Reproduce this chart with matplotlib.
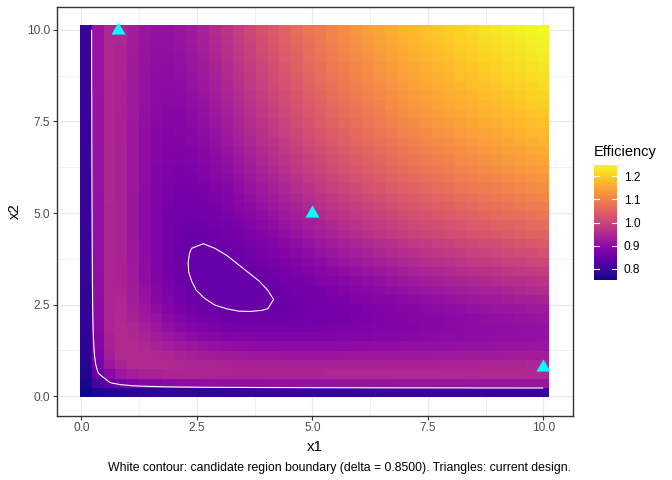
import numpy as np
import matplotlib
matplotlib.use("Agg")
import matplotlib.pyplot as plt
from matplotlib.path import Path

# Tile centres (same grid for x1 and x2)
x1_values = np.linspace(0.1, 10, 40)
x2_values = np.linspace(0.1, 10, 40)

# Current design points (triangles)
design_x1 = [0.8, 5.0, 10.0]
design_x2 = [10.0, 5.0, 0.8]

contour_level = 0.85
colorbar_ticks = [0.8, 0.9, 1.0, 1.1, 1.2]
colorbar_labels = ['0.8', '0.9', '1.0', '1.1', '1.2']
axis_ticks = [0, 2.5, 5, 7.5, 10]
axis_labels = ['0.0', '2.5', '5.0', '7.5', '10.0']

# Efficiency x 1000; row j = x2_values[j], column i = x1_values[i]
efficiency_milli = [
[752,761,768,773,777,779,781,783,784,785,786,786,787,787,788,788,788,789,789,789,790,790,790,790,790,791,791,791,791,791,791,791,791,792,792,792,792,792,792,792],
[761,810,845,866,878,886,891,895,897,899,901,902,903,904,904,905,906,906,907,907,908,908,909,909,910,910,910,911,911,911,912,912,912,913,913,913,913,914,914,914],
[768,845,892,917,929,935,938,940,941,941,941,941,941,941,941,941,941,941,941,941,941,942,942,942,943,943,943,944,944,944,945,945,945,945,946,946,946,947,947,947],
[773,866,917,939,948,951,950,948,946,944,942,940,939,938,937,936,936,935,935,935,935,935,935,936,936,936,937,937,937,938,938,939,939,939,940,940,941,941,942,942],
[777,878,929,948,953,951,947,942,937,932,928,925,923,921,919,918,917,916,916,916,916,916,917,917,917,918,918,919,920,920,921,922,922,923,924,924,925,926,926,927],
[779,886,935,951,951,945,937,929,922,916,910,906,903,900,898,897,896,896,896,896,896,896,897,898,899,900,901,902,903,904,905,906,907,908,909,910,911,912,913,914],
[781,891,938,950,947,937,926,916,907,899,893,888,884,882,880,879,878,878,878,879,880,881,882,883,885,886,888,889,891,892,894,896,897,899,900,902,903,905,906,908],
[783,895,940,948,942,929,916,904,893,885,878,873,869,867,865,865,865,865,866,867,869,871,873,875,877,879,881,883,885,887,890,892,894,896,898,900,902,904,906,908],
[784,897,941,946,937,922,907,893,882,873,866,861,858,856,855,855,856,857,859,861,863,866,868,871,874,877,880,883,886,888,891,894,896,899,902,904,906,909,911,913],
[785,899,941,944,932,916,899,885,873,864,857,852,850,848,848,849,851,853,856,859,862,866,869,873,876,880,883,887,890,894,897,900,903,907,910,913,915,918,921,923],
[786,901,941,942,928,910,893,878,866,857,851,847,845,845,845,847,850,853,857,861,865,869,873,878,882,886,891,895,899,903,906,910,914,917,921,924,927,931,934,937],
[786,902,941,940,925,906,888,873,861,852,847,844,843,843,845,848,852,856,861,865,870,875,881,886,891,895,900,905,909,914,918,922,926,930,934,938,941,945,948,952],
[787,903,941,939,923,903,884,869,858,850,845,843,843,844,847,851,856,861,867,872,878,884,889,895,901,906,912,917,922,927,931,936,940,945,949,953,957,960,964,968],
[787,904,941,938,921,900,882,867,856,848,845,843,844,847,851,856,862,868,874,880,887,893,900,906,912,918,924,929,935,940,945,950,955,960,964,968,972,976,980,984],
[788,904,941,937,919,898,880,865,855,848,845,845,847,851,856,862,869,875,882,890,897,904,911,917,924,930,937,943,949,954,960,965,970,975,979,984,988,992,997,1000],
[788,905,941,936,918,897,879,865,855,849,847,848,851,856,862,869,876,884,891,899,907,915,922,929,936,943,950,956,962,968,974,979,985,990,995,999,1004,1008,1013,1017],
[788,906,941,936,917,896,878,865,856,851,850,852,856,862,869,876,884,892,901,909,917,926,933,941,949,956,963,969,976,982,988,994,999,1004,1010,1014,1019,1024,1028,1032],
[789,906,941,935,916,896,878,865,857,853,853,856,861,868,875,884,892,901,910,919,928,937,945,953,961,968,975,982,989,995,1002,1008,1013,1019,1024,1029,1034,1039,1043,1047],
[789,907,941,935,916,896,878,866,859,856,857,861,867,874,882,891,901,910,920,929,938,947,956,964,973,980,988,995,1002,1009,1015,1021,1027,1032,1038,1043,1048,1053,1058,1062],
[789,907,941,935,916,896,879,867,861,859,861,865,872,880,890,899,909,919,929,939,949,958,967,976,984,992,1000,1007,1014,1021,1028,1034,1040,1046,1051,1057,1062,1067,1071,1076],
[790,908,941,935,916,896,880,869,863,862,865,870,878,887,897,907,917,928,938,949,959,968,978,986,995,1003,1011,1019,1026,1033,1040,1046,1052,1058,1064,1069,1075,1080,1084,1089],
[790,908,942,935,916,896,881,871,866,866,869,875,884,893,904,915,926,937,947,958,968,978,988,997,1006,1014,1022,1030,1038,1045,1051,1058,1064,1070,1076,1082,1087,1092,1097,1102],
[790,909,942,935,917,897,882,873,868,869,873,881,889,900,911,922,933,945,956,967,978,988,998,1007,1016,1025,1033,1041,1048,1056,1063,1069,1076,1082,1088,1093,1099,1104,1109,1114],
[790,909,942,936,917,898,883,875,871,873,878,886,895,906,917,929,941,953,964,976,986,997,1007,1017,1026,1035,1043,1051,1059,1066,1073,1080,1086,1093,1099,1104,1110,1115,1120,1125],
[790,910,943,936,917,899,885,877,874,876,882,891,901,912,924,936,949,961,973,984,995,1006,1016,1026,1035,1044,1053,1061,1069,1076,1083,1090,1097,1103,1109,1115,1120,1126,1131,1136],
[791,910,943,936,918,900,886,879,877,880,886,895,906,918,930,943,956,968,980,992,1003,1014,1025,1035,1044,1053,1062,1070,1078,1086,1093,1100,1107,1113,1119,1125,1130,1136,1141,1146],
[791,910,943,937,918,901,888,881,880,883,891,900,912,924,937,950,963,975,988,1000,1011,1022,1033,1043,1053,1062,1071,1079,1087,1095,1102,1109,1116,1122,1129,1134,1140,1145,1151,1156],
[791,911,944,937,919,902,889,883,883,887,895,905,917,929,943,956,969,982,995,1007,1019,1030,1041,1051,1061,1070,1079,1088,1096,1104,1111,1118,1125,1131,1138,1144,1149,1155,1160,1165],
[791,911,944,937,920,903,891,885,886,890,899,909,922,935,949,962,976,989,1002,1014,1026,1038,1048,1059,1069,1078,1087,1096,1104,1112,1119,1127,1133,1140,1146,1152,1158,1163,1169,1174],
[791,911,944,938,920,904,892,887,888,894,903,914,927,940,954,968,982,995,1009,1021,1033,1045,1056,1066,1076,1086,1095,1104,1112,1120,1127,1135,1141,1148,1154,1160,1166,1172,1177,1182],
[791,912,945,938,921,905,894,890,891,897,906,918,931,945,960,974,988,1002,1015,1028,1040,1051,1063,1073,1083,1093,1102,1111,1119,1127,1135,1142,1149,1156,1162,1168,1174,1180,1185,1190],
[791,912,945,939,922,906,896,892,894,900,910,922,936,950,965,979,994,1008,1021,1034,1046,1058,1069,1080,1090,1100,1109,1118,1127,1135,1142,1150,1157,1163,1170,1176,1182,1187,1193,1198],
[791,912,945,939,922,907,897,894,896,903,914,926,940,955,970,985,999,1013,1027,1040,1052,1064,1076,1086,1097,1107,1116,1125,1133,1141,1149,1157,1164,1170,1177,1183,1189,1194,1200,1205],
[792,913,945,939,923,908,899,896,899,907,917,930,945,960,975,990,1004,1019,1032,1046,1058,1070,1082,1093,1103,1113,1122,1131,1140,1148,1156,1163,1170,1177,1184,1190,1196,1201,1207,1212],
[792,913,946,940,924,909,900,898,902,910,921,934,949,964,979,995,1010,1024,1038,1051,1064,1076,1088,1099,1109,1119,1129,1138,1146,1154,1162,1170,1177,1184,1190,1196,1202,1208,1214,1219],
[792,913,946,940,924,910,902,900,904,913,924,938,953,968,984,999,1014,1029,1043,1057,1069,1082,1093,1104,1115,1125,1134,1144,1152,1160,1168,1176,1183,1190,1196,1203,1209,1214,1220,1225],
[792,913,946,941,925,911,903,902,906,915,927,941,957,972,988,1004,1019,1034,1048,1062,1075,1087,1099,1110,1120,1130,1140,1149,1158,1166,1174,1182,1189,1196,1202,1209,1215,1220,1226,1231],
[792,914,947,941,926,912,905,904,909,918,931,945,960,976,992,1008,1024,1039,1053,1067,1080,1092,1104,1115,1126,1136,1145,1155,1163,1172,1180,1187,1194,1201,1208,1214,1220,1226,1232,1237],
[792,914,947,942,926,913,906,906,911,921,934,948,964,980,997,1013,1028,1043,1058,1071,1084,1097,1109,1120,1131,1141,1151,1160,1169,1177,1185,1193,1200,1207,1214,1220,1226,1232,1237,1243],
[792,914,947,942,927,914,908,908,913,923,937,952,968,984,1000,1017,1032,1047,1062,1076,1089,1102,1114,1125,1136,1146,1156,1165,1174,1182,1190,1198,1205,1212,1219,1225,1231,1237,1243,1248],
]

eff = np.array(efficiency_milli) / 1000.0

plt.rcParams['font.family'] = ['Liberation Sans', 'DejaVu Sans']
W, H = 672, 480
fig = plt.figure(figsize=(6.72, 4.8), dpi=100)
L, R, T, Bt = 56.7, 572.6, 6.7, 415.7
ax = fig.add_axes([L/W, 1-Bt/H, (R-L)/W, (Bt-T)/H])
vmin, vmax = eff.min(), eff.max()
ax.pcolormesh(x1_values, x2_values, eff, cmap='plasma', shading='nearest', vmin=vmin, vmax=vmax, zorder=1)
ax.contour(x1_values, x2_values, eff, levels=[contour_level], colors='white', linewidths=0.8, zorder=2)
tri = Path([(0, 1), (-0.866, -0.5), (0.866, -0.5), (0, 1)])
ax.plot(design_x1, design_x2, linestyle='none', marker=tri, ms=11.7, color='#00FFFF', mec='none', zorder=3, clip_on=False)
ax.set_xlim(-0.535, 10.635); ax.set_ylim(-0.535, 10.635)
ax.set_xticks(axis_ticks); ax.set_xticklabels(axis_labels)
ax.set_yticks(axis_ticks); ax.set_yticklabels(axis_labels)
ax.set_xticks([1.25, 3.75, 6.25, 8.75], minor=True)
ax.set_yticks([1.25, 3.75, 6.25, 8.75], minor=True)
ax.set_axisbelow(True)
ax.grid(which='major', color='#EBEBEB', lw=1.0)
ax.grid(which='minor', color='#EBEBEB', lw=0.5)
ax.tick_params(which='minor', length=0)
ax.tick_params(which='major', length=2.66, width=0.8, color='#333333', labelcolor='#4D4D4D', labelsize=8.6, pad=2.1)
for s in ax.spines.values():
    s.set_color('#333333'); s.set_linewidth(1.0)
fig.text(314.6/W, 1-446.7/H, 'x1', ha='center', va='center', fontsize=10.8)
fig.text(15/W, 1-211/H, 'x2', ha='center', va='center', rotation=90, fontsize=10.8)
fig.text(570.7/W, 1-467.7/H, 'White contour: candidate region boundary (delta = 0.8500). Triangles: current design.',
         ha='right', va='center', fontsize=8.8)

cax = fig.add_axes([594/W, 1-280/H, 23/W, 115/H])
grad = np.linspace(vmin, vmax, 300).reshape(-1, 1)
cax.imshow(grad, cmap='plasma', aspect='auto', origin='lower', extent=[0, 1, vmin, vmax], vmin=vmin, vmax=vmax)
cax.set_xlim(0, 1); cax.set_ylim(vmin, vmax)
for t in colorbar_ticks:
    cax.plot([0, 0.2], [t, t], color='white', lw=0.8)
    cax.plot([0.8, 1], [t, t], color='white', lw=0.8)
cax.set_xticks([])
cax.yaxis.tick_right()
cax.set_yticks(colorbar_ticks); cax.set_yticklabels(colorbar_labels)
cax.tick_params(axis='y', length=0, pad=5, labelsize=8.6, labelcolor='black')
for s in cax.spines.values():
    s.set_visible(False)
fig.text(594/W, 1-152/H, 'Efficiency', ha='left', va='center', fontsize=10.56)
fig.savefig("out.png")
